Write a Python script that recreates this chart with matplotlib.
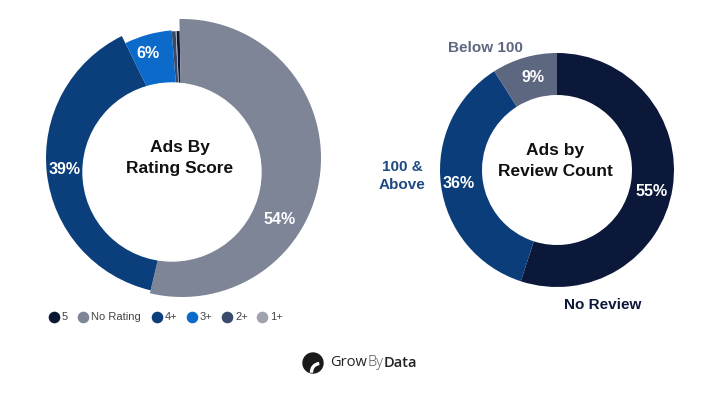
import matplotlib.pyplot as plt
from matplotlib.patches import Circle, Arc

plt.rcParams['font.family'] = ['Liberation Sans', 'DejaVu Sans']

# Левая диаграмма: рейтинг
rating_labels = ['5', 'No Rating', '4+', '3+', '2+', '1+']
rating_values = [0.4, 54, 39, 6, 0.5, 0.1]
rating_text = ['', '54%', '39%', '6%', '', '']
rating_colors = ['#0b1633', '#7d8597', '#0a3f7c', '#0c6acb', '#3a4a6a', '#9ea3ad']
rating_radius = [127, 139, 136, 128, 127, 127]

# Правая диаграмма: отзывы
review_labels = ['No Review', '100 &\nAbove', 'Below 100']
review_values = [55, 36, 9]
review_text = ['55%', '36%', '9%']
review_colors = ['#0b1839', '#0a3d7a', '#5d6780']
review_label_colors = ['#0b1839', '#1d4a82', '#5d6780']

H = 405

fig = plt.figure(figsize=(7.2, 4.05), dpi=100)
ax = fig.add_axes([0, 0, 1, 1])

# --- левая ---
wedges, _ = ax.pie(rating_values, colors=rating_colors, startangle=92.5,
                   counterclock=False, center=(182, H - 158), radius=139)
for w, r in zip(wedges, rating_radius):
    w.set_radius(r)
ax.add_patch(Circle((172, H - 172), 89, color='white', zorder=3))

pct_pos_left = {1: (280, 220), 2: (65, 170), 3: (148, 53)}
for i, (x, y) in pct_pos_left.items():
    ax.text(x, H - y, rating_text[i], color='white', fontsize=11.5,
            fontweight='bold', ha='center', va='center', zorder=4)
ax.text(180, H - 158, 'Ads By\nRating Score', fontsize=12.5, fontweight='bold',
        ha='center', va='center', linespacing=1.45, color='#111111', zorder=4)

# легенда
leg_x = [54, 83, 157, 192, 227, 262]
for x, lab, c in zip(leg_x, rating_labels, rating_colors):
    ax.scatter([x], [H - 317], s=70, color=c, zorder=4, linewidths=0)
    ax.text(x + 8, H - 317, lab, fontsize=8, color='#444444',
            ha='left', va='center', zorder=4)

# --- правая ---
ax.pie(review_values, colors=review_colors, startangle=90, counterclock=False,
       center=(557, H - 170), radius=117, wedgeprops=dict(width=42))

pct_pos_right = [(652, 192), (459, 183), (533, 77)]
for t, (x, y) in zip(review_text, pct_pos_right):
    ax.text(x, H - y, t, color='white', fontsize=11.5, fontweight='bold',
            ha='center', va='center', zorder=4)
ax.text(555, H - 161, 'Ads by\nReview Count', fontsize=12.5, fontweight='bold',
        ha='center', va='center', linespacing=1.45, color='#111111', zorder=4)

out_pos = [(603, 305), (402, 176), (485, 48)]
for lab, c, (x, y) in zip(review_labels, review_label_colors, out_pos):
    ax.text(x, H - y, lab, color=c, fontsize=11, fontweight='bold',
            ha='center', va='center', linespacing=1.3, zorder=4)

ax.set_xlim(0, 720)
ax.set_ylim(0, H)
ax.set_aspect('auto')
ax.axis('off')

# --- логотип ---
ax.add_patch(Circle((313, H - 363), 10, color='#1a1a1a', zorder=4))
ax.add_patch(Arc((320, H - 372), 17, 17, theta1=95, theta2=185,
                 color='white', lw=2.4, zorder=5))
logo_parts = [('Grow', '#222222', 'normal'), ('By', '#555555', 'light'),
              ('Data', '#222222', 'semibold')]
fig.canvas.draw()
renderer = fig.canvas.get_renderer()
inv = ax.transData.inverted()
x0 = 330
for txt, c, wgt in logo_parts:
    t = ax.text(x0, H - 363, txt, fontsize=10.5, color=c, fontweight=wgt,
                ha='left', va='center', zorder=4, family='Open Sans')
    bb = t.get_window_extent(renderer=renderer)
    x0 = inv.transform((bb.x1, bb.y0))[0] + 0.5

plt.savefig('out.png', dpi=100)
